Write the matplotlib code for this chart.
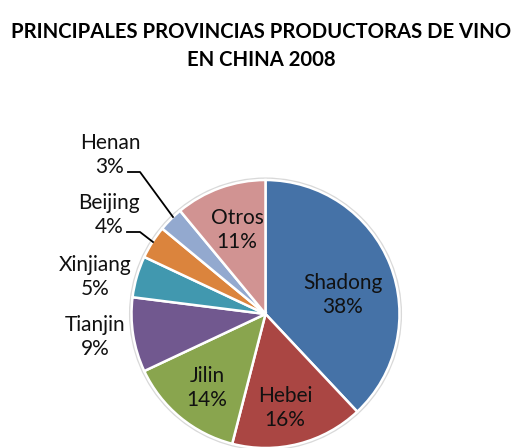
import matplotlib
matplotlib.use("Agg")
import matplotlib.pyplot as plt
from matplotlib.patches import Circle

# Wine production share by province, China 2008
provinces = ["Shadong", "Hebei", "Jilin", "Tianjin", "Xinjiang", "Beijing", "Henan", "Otros"]
shares = [38, 16, 14, 9, 5, 4, 3, 11]
colors = ["#4572A7", "#AA4643", "#89A54E", "#71588F", "#4198AF", "#DB843D", "#93A9CF", "#D19392"]

W, H = 518, 448
fig = plt.figure(figsize=(W / 100, H / 100), dpi=100)
ax = fig.add_axes([0, 0, 1, 1])

cx, cy, R = 265.5, H - 314, 134

# faint outline ring around the pie
ax.add_patch(Circle((cx, cy), R + 1.5, facecolor="none", edgecolor="#d9d9d9", lw=1.5, zorder=0))

ax.pie(shares, colors=colors, startangle=90, counterclock=False,
       center=(cx, cy), radius=R, frame=True,
       wedgeprops=dict(edgecolor="white", linewidth=1.8))
ax.set_xlim(0, W)
ax.set_ylim(0, H)
ax.set_aspect("equal")
ax.axis("off")

font = "Lato"
label_pos = [(342.5, 295), (285, 408), (207, 388), (95, 337),
             (95, 277), (109, 215), (110, 155), (237, 230)]
for name, val, (lx, ly) in zip(provinces, shares, label_pos):
    ax.text(lx, H - ly, f"{name}\n{val}%", ha="center", va="center",
            fontsize=15, family=font, color="#111111", linespacing=1.2)

# leader lines for the small slices
ax.plot([128, 140, 173], [H - 172, H - 172, H - 217], color="black", lw=1.3)
ax.plot([127, 140, 153], [H - 232, H - 232, H - 242], color="black", lw=1.3)

fig.text(261 / W, 1 - 32 / H, "PRINCIPALES PROVINCIAS PRODUCTORAS DE VINO",
         ha="center", va="center", fontsize=14.6, fontweight="bold", family=font)
fig.text(261 / W, 1 - 60 / H, "EN CHINA 2008",
         ha="center", va="center", fontsize=14.6, fontweight="bold", family=font)

fig.savefig("out.png", dpi=100)
